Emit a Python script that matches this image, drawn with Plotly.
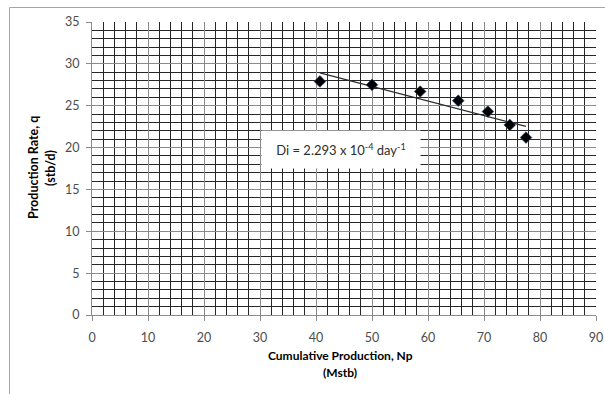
import numpy as np
import plotly.graph_objects as go

# Data
cum_production = [40.7, 50.0, 58.6, 65.4, 70.7, 74.6, 77.5]   # Np, Mstb
rate = [27.9, 27.5, 26.7, 25.6, 24.3, 22.7, 21.2]             # q, stb/d
x_ticks = [0, 10, 20, 30, 40, 50, 60, 70, 80, 90]
y_ticks = [0, 5, 10, 15, 20, 25, 30, 35]
annotation_text = "Di = 2.293 x 10<sup>-4</sup> day<sup>-1</sup>"

# linear trendline through the points (as Excel does)
slope, intercept = np.polyfit(cum_production, rate, 1)
trend_x = [min(cum_production), max(cum_production)]
trend_y = [slope * v + intercept for v in trend_x]

W, H = 605, 394
L, R, T, B = 92, 9, 22, 79
pw, ph = W - L - R, H - T - B

def px2paper_x(px):
    return (px - L) / pw

def px2paper_y(py):
    return (H - B - py) / ph

FONT = "Lato"

fig = go.Figure()
fig.add_trace(go.Scatter(x=trend_x, y=trend_y, mode="lines",
                         line=dict(color="#2b2b2b", width=1.2),
                         showlegend=False, hoverinfo="skip"))
fig.add_trace(go.Scatter(x=cum_production, y=rate, mode="markers",
                         marker=dict(symbol="diamond", size=9, color="black",
                                     line=dict(color="#2a4a7a", width=0.6)),
                         showlegend=False))

axis_common = dict(
    showline=True, linecolor="#8c8c8c", linewidth=1,
    ticks="outside", ticklen=5, tickcolor="#8c8c8c",
    showgrid=True, gridcolor="#8a8a8a", gridwidth=1,
    zeroline=False,
    tickfont=dict(family=FONT, size=12.5, color="#4d4d4d"),
)

fig.update_xaxes(range=[0, 90], tickvals=x_ticks, ticktext=[str(v) for v in x_ticks],
                 minor=dict(dtick=2, showgrid=True, gridcolor="#262626", gridwidth=1),
                 ticklabelstandoff=6, **axis_common)
fig.update_yaxes(range=[0, 35], tickvals=y_ticks, ticktext=[str(v) for v in y_ticks],
                 minor=dict(dtick=1, showgrid=True, gridcolor="#262626", gridwidth=1),
                 ticklabelstandoff=4, **axis_common)

# outer chart border (only left and top edges visible in the frame)
fig.add_shape(type="rect", xref="paper", yref="paper",
              x0=px2paper_x(9.5), x1=px2paper_x(620),
              y0=px2paper_y(420), y1=px2paper_y(7.5),
              line=dict(color="#a6a6a6", width=1), fillcolor="rgba(0,0,0,0)",
              layer="above")

annotations = [
    dict(text=annotation_text, x=px2paper_x(341), y=px2paper_y(149.5),
         xref="paper", yref="paper", xanchor="center", yanchor="middle",
         showarrow=False, width=156, height=35, bgcolor="white", borderpad=1,
         font=dict(family=FONT, size=13, color="#2e2e2e")),
    dict(text="<b>Production Rate, q</b>", x=px2paper_x(33), y=px2paper_y(168),
         xref="paper", yref="paper", xanchor="center", yanchor="middle",
         textangle=-90, showarrow=False,
         font=dict(family=FONT, size=12.5, color="black")),
    dict(text="<b>(stb/d)</b>", x=px2paper_x(50), y=px2paper_y(168),
         xref="paper", yref="paper", xanchor="center", yanchor="middle",
         textangle=-90, showarrow=False,
         font=dict(family=FONT, size=12.5, color="black")),
    dict(text="<b>Cumulative Production, Np</b>", x=px2paper_x(340), y=px2paper_y(355),
         xref="paper", yref="paper", xanchor="center", yanchor="middle",
         showarrow=False, font=dict(family=FONT, size=12, color="black")),
    dict(text="<b>(Mstb)</b>", x=px2paper_x(340), y=px2paper_y(372),
         xref="paper", yref="paper", xanchor="center", yanchor="middle",
         showarrow=False, font=dict(family=FONT, size=12, color="black")),
]

fig.update_layout(width=W, height=H, margin=dict(l=L, r=R, t=T, b=B, autoexpand=False),
                  paper_bgcolor="white", plot_bgcolor="white",
                  annotations=annotations, showlegend=False)

fig.write_html("out.html")
